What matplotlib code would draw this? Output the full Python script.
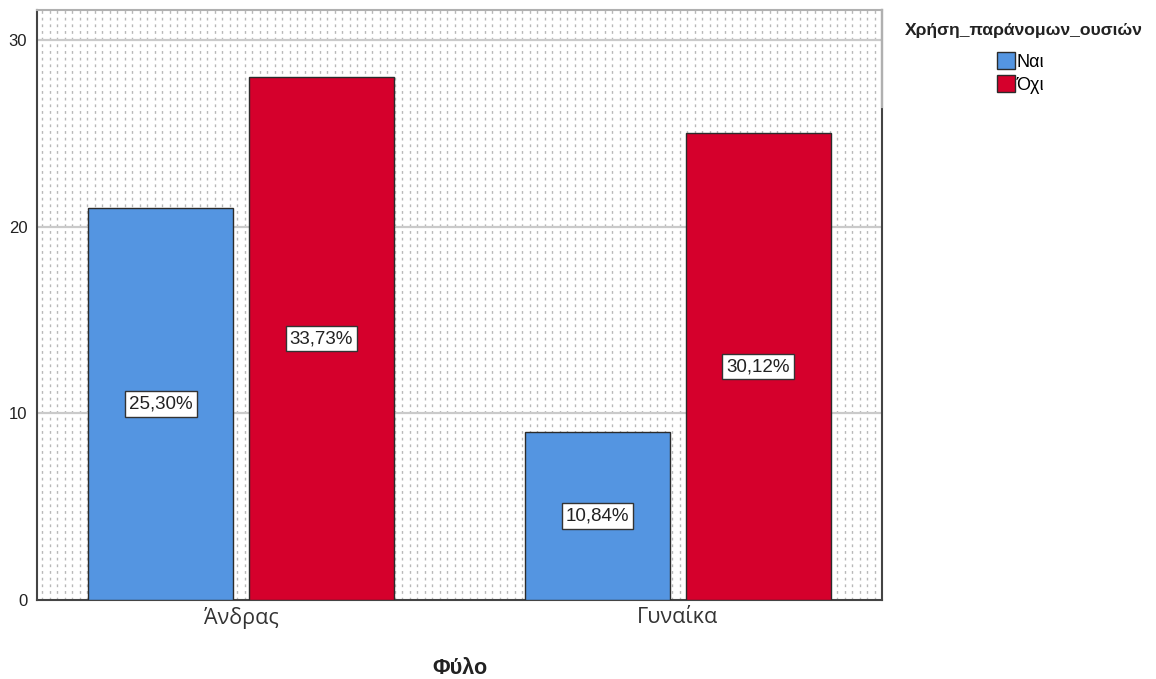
import numpy as np
import matplotlib
matplotlib.use("Agg")
from matplotlib import pyplot as plt
from matplotlib.patches import Patch

plt.rcParams['font.family'] = ['Liberation Sans', 'DejaVu Sans']

# data
groups = ['Άνδρας', 'Γυναίκα']
series = ['Ναι', 'Όχι']
counts_nai = [21, 9]
counts_oxi = [28, 25]
colors = ['#5495E1', '#D5002C']

total = sum(counts_nai) + sum(counts_oxi)

fig = plt.figure(figsize=(11.56, 6.79), dpi=100)
ax = fig.add_axes([37/1156, 1 - 600/679, 845/1156, 590/679])

# dotted background
for xx in np.arange(0.006, 1.0, 7.5/845):
    ax.plot([xx, xx], [0, 1], transform=ax.transAxes, color='#b8b8b8',
            lw=1.0, ls=(0, (2.0, 2.8)), zorder=0)

for yv in [10, 20, 30]:
    ax.axhline(yv, color='#cacaca', lw=1.6, zorder=1)

x = np.arange(len(groups))
off = 0.184
w = 0.332
for vals, c, sgn in [(counts_nai, colors[0], -1), (counts_oxi, colors[1], 1)]:
    bars = ax.bar(x + sgn*off, vals, w, color=c, edgecolor='#2b2b2b', lw=1.0, zorder=3)
    for b, v in zip(bars, vals):
        pct = f"{100*v/total:.2f}%".replace('.', ',')
        ax.text(b.get_x() + b.get_width()/2, v/2, pct, ha='center', va='center',
                fontsize=13.5, color='#222222', zorder=4,
                bbox=dict(boxstyle='square,pad=0.22', fc='white', ec='#333333', lw=1))

ax.set_xlim(-0.467, 1.467)
ax.set_ylim(0, 31.6)
ax.set_yticks([0, 10, 20, 30])
ax.set_xticks(x)
ax.set_xticklabels(groups, fontsize=15.5, color='#333333', family=['Open Sans', 'DejaVu Sans'])
ax.tick_params(axis='y', labelsize=12, length=0, pad=7, colors='#222222')
ax.tick_params(axis='x', length=0, pad=5)

ax.spines['top'].set_color('#b0b0b0')
ax.spines['top'].set_linewidth(1.5)
ax.spines['right'].set_color('#444444')
ax.spines['right'].set_linewidth(1.5)
ax.plot([1, 1], [(600 - 107)/590, 1], transform=ax.transAxes, color='#b0b0b0',
        lw=1.6, clip_on=False, zorder=5)
for s in ['left', 'bottom']:
    ax.spines[s].set_color('#444444')
    ax.spines[s].set_linewidth(1.5)

fig.text(460/1156, 1 - 668/679, 'Φύλο', ha='center', va='center',
         fontsize=15.5, fontweight='bold', color='#222222')

fig.text(1024/1156, 1 - 31/679, 'Χρήση_παράνομων_ουσιών', ha='center', va='center',
         fontsize=12.6, fontweight='bold', color='#222222')
handles = [Patch(facecolor=c, edgecolor='#2b2b2b', lw=1) for c in colors]
fig.legend(handles, series, loc='upper left', bbox_to_anchor=(997/1156, 1 - 52/679),
           frameon=False, fontsize=13, handlelength=1.0, handleheight=1.05,
           handletextpad=0.1, labelspacing=0.25, borderpad=0, borderaxespad=0)

plt.savefig('out.png', dpi=100)
